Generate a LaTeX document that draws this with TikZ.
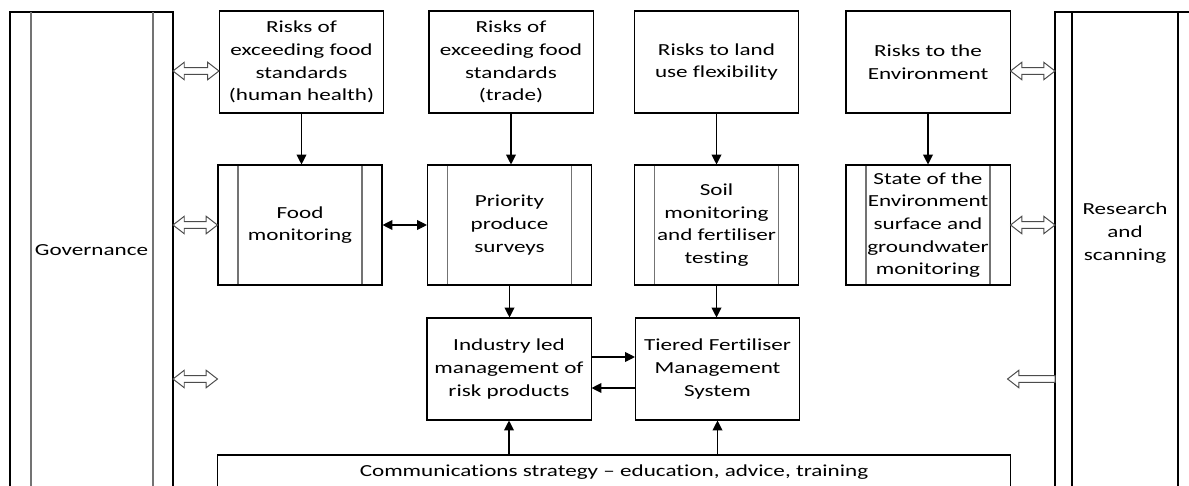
\documentclass[tikz,border=0pt]{standalone}
\usepackage{fontspec}
\setmainfont{Carlito}[FakeStretch=1.37, Ligatures=NoCommon]
\usetikzlibrary{arrows.meta,calc}

\tikzset{
  riskbox/.style={draw, line width=0.75pt, minimum width=4.1cm, minimum height=2.55cm, align=center, inner sep=0pt},
  procbox/.style={riskbox, minimum height=3cm, path picture={
      \draw[innerline] ([xshift=0.5cm]path picture bounding box.north west) -- ([xshift=0.5cm]path picture bounding box.south west);
      \draw[innerline] ([xshift=-0.5cm]path picture bounding box.north east) -- ([xshift=-0.5cm]path picture bounding box.south east);}},
  arr/.style={line width=0.75pt, -{Triangle[length=7pt,width=7pt]}},
  twoway/.style={line width=0.75pt, {Triangle[length=7pt,width=7pt]}-{Triangle[length=7pt,width=7pt]}},
  % outlined block arrows, drawn left to right / right to left
  hollow/.style={draw=black!70, fill=white, line width=0.7pt, line join=miter,
    to path={let \p1=(\tikztostart), \p2=(\tikztotarget) in
      (\x1,\y1) -- (\x1+8pt,\y1+6.2pt) -- (\x1+8pt,\y1+2.4pt) -- (\x2-8pt,\y1+2.4pt) -- (\x2-8pt,\y1+6.2pt)
      -- (\x2,\y1) -- (\x2-8pt,\y1-6.2pt) -- (\x2-8pt,\y1-2.4pt) -- (\x1+8pt,\y1-2.4pt) -- (\x1+8pt,\y1-6.2pt) -- cycle}},
  hollowleft/.style={draw=black!70, fill=white, line width=0.7pt, line join=miter,
    to path={let \p1=(\tikztostart), \p2=(\tikztotarget) in
      (\x2,\y1) -- (\x2+8pt,\y1+6.2pt) -- (\x2+8pt,\y1+2.4pt) -- (\x1,\y1+2.4pt)
      -- (\x1,\y1-2.4pt) -- (\x2+8pt,\y1-2.4pt) -- (\x2+8pt,\y1-6.2pt) -- cycle}},
  colline/.style={line width=0.75pt},
  innerline/.style={black!55, line width=1.1pt}
}

\begin{document}
\begin{tikzpicture}[x=0.025cm, y=-0.025cm, font=\fontsize{12}{16.1}\selectfont]
        \useasboundingbox (0,0) rectangle (1189,486);
        \clip (0,0) rectangle (1189,486);

        % side columns
        \draw[colline] (10,500) |- (173,12) -- (173,500);
        \draw[innerline] (31,12) -- (31,500);
        \draw[innerline] (153,12) -- (153,500);
        \node (gov) at (91.5,250) {Governance};

        \draw[colline] (1055,500) |- (1195,12) -- (1195,500);
        \draw[colline] (1072,12) -- (1072,500);
        \draw[colline] (1178,12) -- (1178,500);
        \node[align=center] (res) at (1125,233) {Research\\and\\scanning};

        % risks
        \node[riskbox] (health) at (301.5,62) {Risks of\\exceeding food\\standards\\(human health)};
        \node[riskbox] (trade) at (511,62) {Risks of\\exceeding food\\standards\\(trade)};
        \node[riskbox] (land) at (716.5,62) {Risks to land\\use flexibility};
        \node[riskbox] (env) at (928,62) {Risks to the\\Environment};

        % monitoring
        \node[procbox] (food) at (300,225) {Food\\monitoring};
        \node[procbox] (survey) at (509.5,225) {Priority\\produce\\surveys};
        \node[procbox] (soil) at (716.5,225) {Soil\\monitoring\\and fertiliser\\testing};
        \node[procbox] (state) at (928,225) {State of the\\Environment\\surface and\\groundwater\\monitoring};

        % management
        \node[riskbox] (industry) at (509,369) {Industry led\\management of\\risk products};
        \node[riskbox] (tiered) at (717.5,369) {Tiered Fertiliser\\Management\\System};

        \node[riskbox, minimum width=19.8cm, minimum height=0.85cm] (comm) at (614,472) {Communications strategy -- education, advice, training};

        \draw[arr] (health.south) -- (health.south |- food.north);
        \draw[arr] (trade.south) -- (trade.south |- survey.north);
        \draw[arr] (land.south) -- (land.south |- soil.north);
        \draw[arr] (env.south) -- (env.south |- state.north);
        \draw[arr] (survey.south) -- (survey.south |- industry.north);
        \draw[arr] (soil.south) -- (soil.south |- tiered.north);
        \draw[twoway] (food.east) -- (survey.west);
        \draw[arr] ([yshift=0.3cm]industry.east) -- ([yshift=0.3cm]industry.east -| tiered.west);
        \draw[arr] ([yshift=-0.475cm]tiered.west) -- ([yshift=-0.475cm]tiered.west -| industry.east);
        \draw[arr] (industry.south |- comm.north) -- (industry.south);
        \draw[arr] (tiered.south |- comm.north) -- (tiered.south);

        % links to the columns
        \coordinate (g1) at (173,71);
        \coordinate (g2) at (173,225);
        \coordinate (g3) at (173,379);
        \coordinate (s1) at (1055,71);
        \coordinate (s2) at (1055,225);
        \coordinate (s3) at (1055,379);
        \draw[hollow] (g1) to (g1 -| health.west);
        \draw[hollow] (g2) to (food.west);
        \draw[hollow] (g3) to (g3 -| food.west);
        \draw[hollow] (s1 -| env.east) to (s1);
        \draw[hollow] (state.east) to (s2);
        \draw[hollowleft] (s3) to ([xshift=-0.075cm]s3 -| state.east);
\end{tikzpicture}
\end{document}
